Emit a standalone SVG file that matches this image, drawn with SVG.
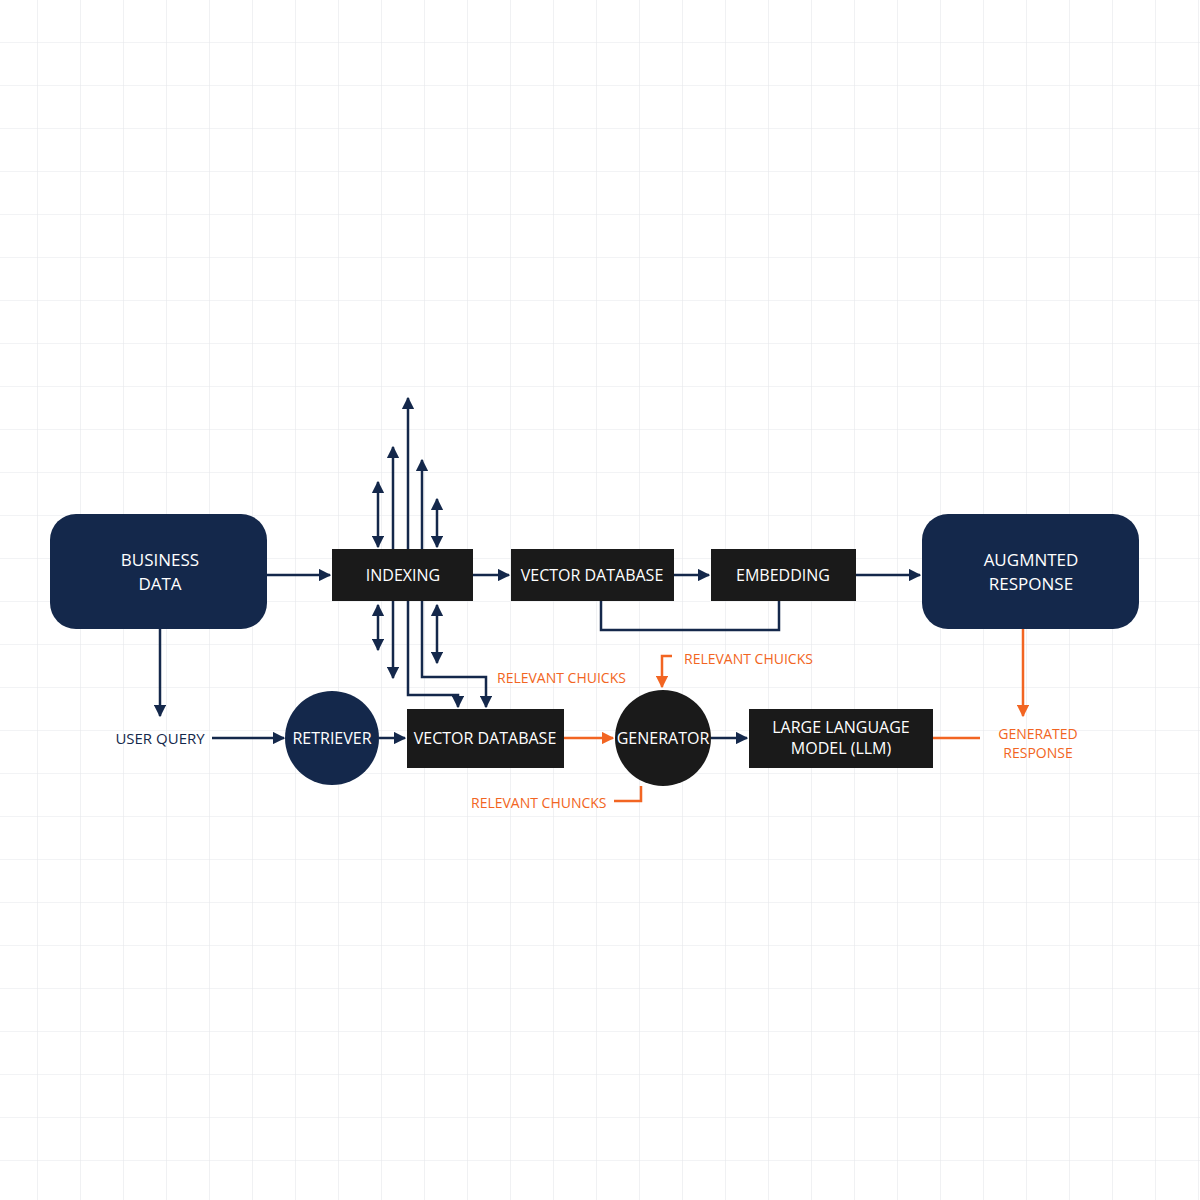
<svg xmlns="http://www.w3.org/2000/svg" width="1200" height="1200" viewBox="0 0 1200 1200">
<defs>
<pattern id="grid" width="43" height="43" patternUnits="userSpaceOnUse" x="-5" y="0">
<path d="M43 0V43M0 43H43" fill="none" stroke="#e6e8eb" stroke-width="1.2"/>
</pattern>
<marker id="an" viewBox="0 0 10 10" refX="9" refY="5" markerWidth="5" markerHeight="5" orient="auto-start-reverse"><path d="M0 0L10 5L0 10z" fill="#14284b"/></marker>
<marker id="ao" viewBox="0 0 10 10" refX="9" refY="5" markerWidth="5" markerHeight="5" orient="auto"><path d="M0 0L10 5L0 10z" fill="#f26522"/></marker>
<style>
.n{fill:#14284b}.b{fill:#1a1a1a}
.t{font-family:"Open Sans","Liberation Sans",sans-serif;fill:#fff;font-size:16px;text-anchor:middle}
.tb{font-family:"Open Sans","Liberation Sans",sans-serif;fill:#fff;font-size:17px;text-anchor:middle}
.ln{fill:none;stroke:#14284b;stroke-width:2.5}
.lo{fill:none;stroke:#f26522;stroke-width:2.5}
.lab{font-family:"Open Sans","Liberation Sans",sans-serif;font-size:14px;fill:#f26522}
.labn{font-family:"Open Sans","Liberation Sans",sans-serif;font-size:15px;fill:#14284b}
</style>
</defs>
<rect width="1200" height="1200" fill="#fff"/>
<rect width="1200" height="1200" fill="url(#grid)"/>
<g id="connectors">
<path class="ln" d="M267 575H330" marker-end="url(#an)"/>
<path class="ln" d="M473 575H509" marker-end="url(#an)"/>
<path class="ln" d="M674 575H709" marker-end="url(#an)"/>
<path class="ln" d="M856 575H920" marker-end="url(#an)"/>
<path class="ln" d="M601 601V630H779V601"/>
<path class="ln" d="M378 482V547" marker-start="url(#an)" marker-end="url(#an)"/>
<path class="ln" d="M393 549V447" marker-end="url(#an)"/>
<path class="ln" d="M408 549V398" marker-end="url(#an)"/>
<path class="ln" d="M422 549V460" marker-end="url(#an)"/>
<path class="ln" d="M437 499V547" marker-start="url(#an)" marker-end="url(#an)"/>
<path class="ln" d="M378 605V650" marker-start="url(#an)" marker-end="url(#an)"/>
<path class="ln" d="M393 601V678" marker-end="url(#an)"/>
<path class="ln" d="M408 601V695H458V707" marker-end="url(#an)"/>
<path class="ln" d="M422 601V677H486V707" marker-end="url(#an)"/>
<path class="ln" d="M437 605V663" marker-start="url(#an)" marker-end="url(#an)"/>
<path class="ln" d="M160 629V716" marker-end="url(#an)"/>
<path class="ln" d="M212 738H284" marker-end="url(#an)"/>
<path class="ln" d="M379 738H405" marker-end="url(#an)"/>
<path class="lo" d="M564 738H613" marker-end="url(#ao)"/>
<path class="ln" d="M711 738H747" marker-end="url(#an)"/>
<path class="lo" d="M672 656H662V687" marker-end="url(#ao)"/>
<path class="lo" d="M614 801H641V786"/>
<path class="lo" d="M933 738H980"/>
<path class="lo" d="M1023 629V716" marker-end="url(#ao)"/>
</g>
<g id="business"><rect class="n" x="50" y="514" width="217" height="115" rx="26"/><text class="tb" x="160" y="566">BUSINESS</text><text class="tb" x="160" y="590">DATA</text></g>
<g id="indexing"><rect class="b" x="332" y="549" width="141" height="52"/><text class="t" x="403" y="581">INDEXING</text></g>
<g id="vdb1"><rect class="b" x="511" y="549" width="163" height="52"/><text class="t" x="592" y="581">VECTOR DATABASE</text></g>
<g id="embedding"><rect class="b" x="711" y="549" width="145" height="52"/><text class="t" x="783" y="581">EMBEDDING</text></g>
<g id="augmented"><rect class="n" x="922" y="514" width="217" height="115" rx="26"/><text class="tb" x="1031" y="566">AUGMNTED</text><text class="tb" x="1031" y="590">RESPONSE</text></g>
<g id="userquery"><text class="labn" x="160" y="744" text-anchor="middle">USER QUERY</text></g>
<g id="retriever"><circle class="n" cx="332" cy="738" r="47"/><text class="t" x="332" y="744">RETRIEVER</text></g>
<g id="vdb2"><rect class="b" x="407" y="709" width="157" height="59"/><text class="t" x="485" y="744">VECTOR DATABASE</text></g>
<g id="generator"><circle class="b" cx="663" cy="738" r="48"/><text class="t" x="663" y="744">GENERATOR</text></g>
<g id="llm"><rect class="b" x="749" y="709" width="184" height="59"/><text class="t" x="841" y="733">LARGE LANGUAGE</text><text class="t" x="841" y="754">MODEL (LLM)</text></g>
<g id="labels">
<text class="lab" x="497" y="683">RELEVANT CHUICKS</text>
<text class="lab" x="684" y="664">RELEVANT CHUICKS</text>
<text class="lab" x="471" y="808">RELEVANT CHUNCKS</text>
<text class="lab" x="1038" y="739" text-anchor="middle">GENERATED</text>
<text class="lab" x="1038" y="758" text-anchor="middle">RESPONSE</text>
</g>
</svg>
